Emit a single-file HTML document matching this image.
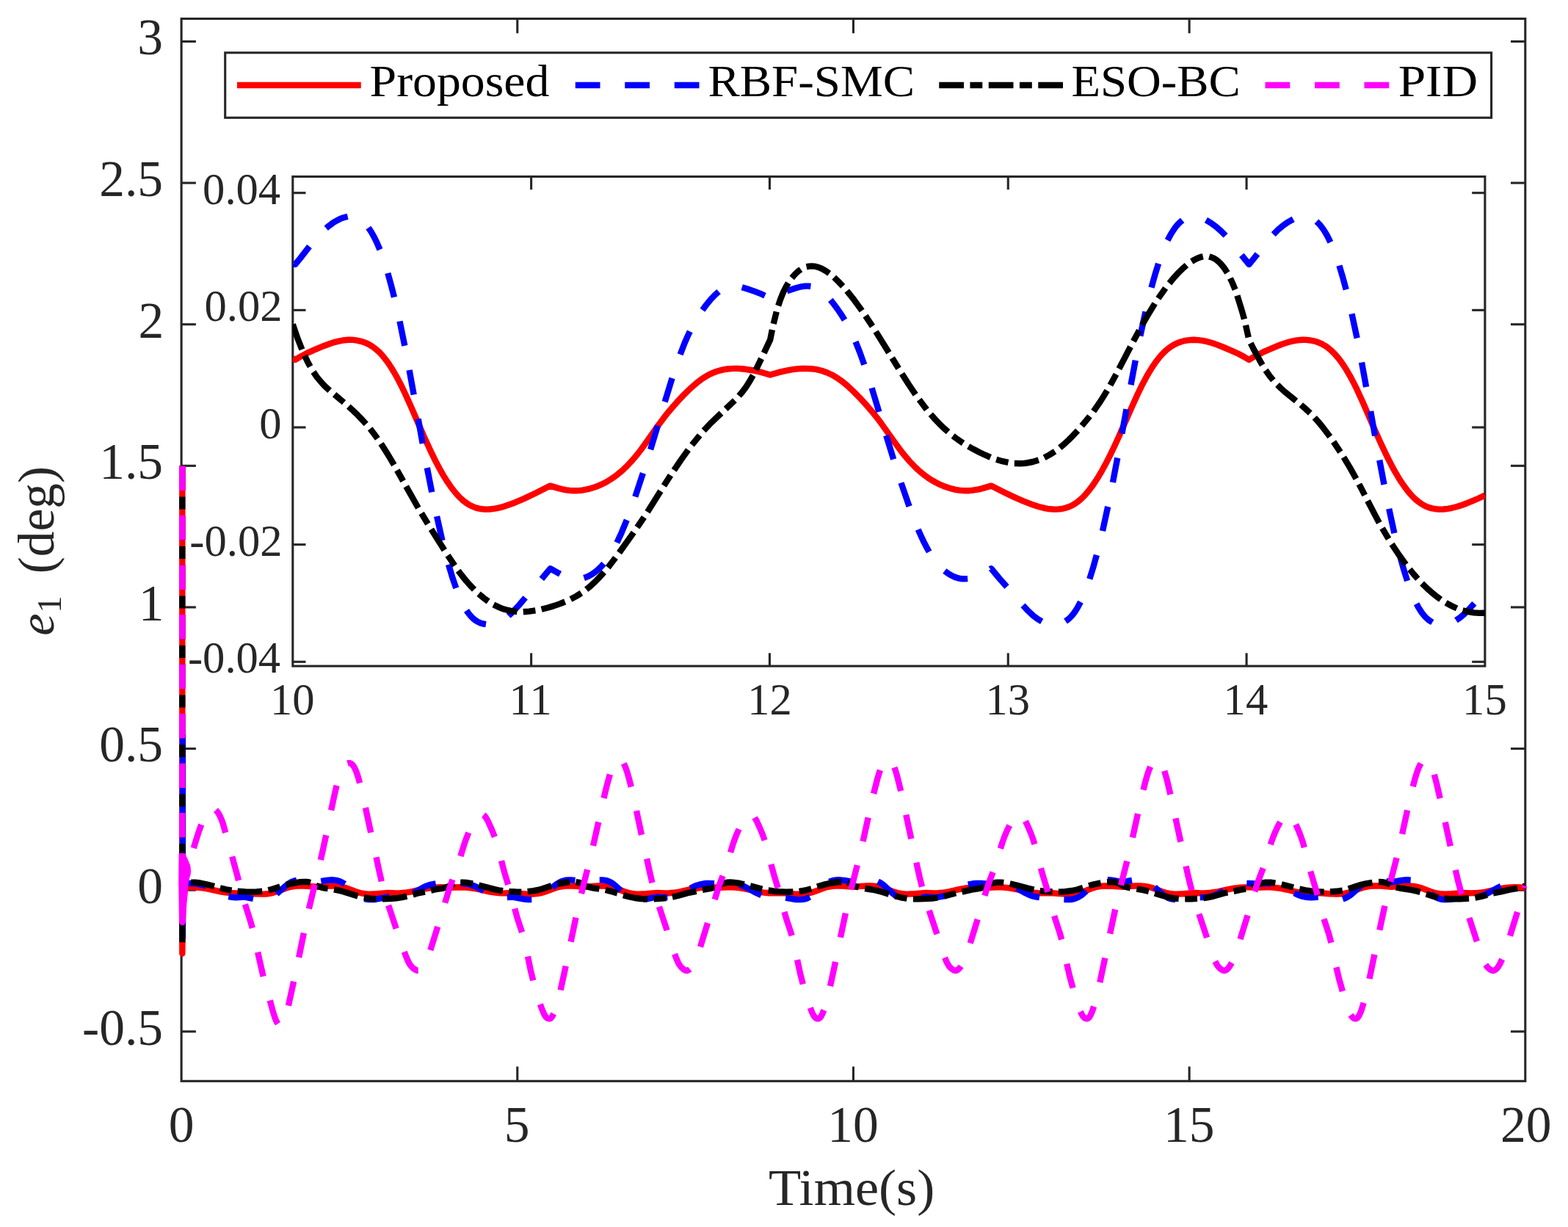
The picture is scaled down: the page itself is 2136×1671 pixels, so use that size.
<!DOCTYPE html>
<html lang="en"><head><meta charset="utf-8"><title>Tracking error e1</title>
<style>html,body{margin:0;padding:0;background:#fff}body{width:2136px;height:1671px;overflow:hidden}svg{display:block}text{font-family:"Liberation Serif","DejaVu Serif",serif;white-space:pre}</style>
</head><body>
<svg width="2136" height="1671" viewBox="0 0 2136 1671">
<rect width="2136" height="1671" fill="#fff"/>
<defs>
<clipPath id="cm"><rect x="241.10" y="25.50" width="1838.70" height="1446.80"/></clipPath>
<clipPath id="ci"><rect x="398.50" y="240.50" width="1624.70" height="666.60"/></clipPath>
</defs>
<g id="main-axes">
<rect x="247.10" y="25.50" width="1830.70" height="1446.80" fill="none" stroke="#262626" stroke-width="3.1"/>
<line x1="704.78" y1="1472.30" x2="704.78" y2="1452.50" stroke="#262626" stroke-width="3.1"/>
<line x1="704.78" y1="25.50" x2="704.78" y2="45.30" stroke="#262626" stroke-width="3.1"/>
<line x1="1162.45" y1="1472.30" x2="1162.45" y2="1452.50" stroke="#262626" stroke-width="3.1"/>
<line x1="1162.45" y1="25.50" x2="1162.45" y2="45.30" stroke="#262626" stroke-width="3.1"/>
<line x1="1620.12" y1="1472.30" x2="1620.12" y2="1452.50" stroke="#262626" stroke-width="3.1"/>
<line x1="1620.12" y1="25.50" x2="1620.12" y2="45.30" stroke="#262626" stroke-width="3.1"/>
<line x1="247.10" y1="56.51" x2="266.90" y2="56.51" stroke="#262626" stroke-width="3.1"/>
<line x1="2077.80" y1="56.51" x2="2058.00" y2="56.51" stroke="#262626" stroke-width="3.1"/>
<line x1="247.10" y1="249.12" x2="266.90" y2="249.12" stroke="#262626" stroke-width="3.1"/>
<line x1="2077.80" y1="249.12" x2="2058.00" y2="249.12" stroke="#262626" stroke-width="3.1"/>
<line x1="247.10" y1="441.74" x2="266.90" y2="441.74" stroke="#262626" stroke-width="3.1"/>
<line x1="2077.80" y1="441.74" x2="2058.00" y2="441.74" stroke="#262626" stroke-width="3.1"/>
<line x1="247.10" y1="634.36" x2="266.90" y2="634.36" stroke="#262626" stroke-width="3.1"/>
<line x1="2077.80" y1="634.36" x2="2058.00" y2="634.36" stroke="#262626" stroke-width="3.1"/>
<line x1="247.10" y1="826.97" x2="266.90" y2="826.97" stroke="#262626" stroke-width="3.1"/>
<line x1="2077.80" y1="826.97" x2="2058.00" y2="826.97" stroke="#262626" stroke-width="3.1"/>
<line x1="247.10" y1="1019.59" x2="266.90" y2="1019.59" stroke="#262626" stroke-width="3.1"/>
<line x1="2077.80" y1="1019.59" x2="2058.00" y2="1019.59" stroke="#262626" stroke-width="3.1"/>
<line x1="247.10" y1="1212.20" x2="266.90" y2="1212.20" stroke="#262626" stroke-width="3.1"/>
<line x1="2077.80" y1="1212.20" x2="2058.00" y2="1212.20" stroke="#262626" stroke-width="3.1"/>
<line x1="247.10" y1="1404.82" x2="266.90" y2="1404.82" stroke="#262626" stroke-width="3.1"/>
<line x1="2077.80" y1="1404.82" x2="2058.00" y2="1404.82" stroke="#262626" stroke-width="3.1"/>
<text transform="translate(187.36,74.41) scale(1.0000,1)" font-size="69.50" fill="#262626">3</text>
<text transform="translate(135.24,267.02) scale(1.0000,1)" font-size="69.50" fill="#262626">2.5</text>
<text transform="translate(188.48,459.64) scale(1.0000,1)" font-size="69.50" fill="#262626">2</text>
<text transform="translate(135.24,652.25) scale(1.0000,1)" font-size="69.50" fill="#262626">1.5</text>
<text transform="translate(188.82,844.87) scale(1.0000,1)" font-size="69.50" fill="#262626">1</text>
<text transform="translate(135.24,1037.49) scale(1.0000,1)" font-size="69.50" fill="#262626">0.5</text>
<text transform="translate(187.30,1230.10) scale(1.0000,1)" font-size="69.50" fill="#262626">0</text>
<text transform="translate(112.10,1422.72) scale(1.0000,1)" font-size="69.50" fill="#262626">-0.5</text>
<text transform="translate(229.72,1554.70) scale(1.0000,1)" font-size="69.50" fill="#262626">0</text>
<text transform="translate(686.74,1554.70) scale(1.0000,1)" font-size="69.50" fill="#262626">5</text>
<text transform="translate(1127.17,1554.70) scale(1.0000,1)" font-size="69.50" fill="#262626">10</text>
<text transform="translate(1584.88,1554.70) scale(1.0000,1)" font-size="69.50" fill="#262626">15</text>
<text transform="translate(2044.05,1554.70) scale(1.0000,1)" font-size="69.50" fill="#262626">20</text>
</g>
<g id="labels">
<text transform="translate(1046.89,1640.60) scale(1.0232,1)" font-size="70.70" fill="#262626">Time(s)</text>
<text transform="translate(73.3,863.6) rotate(-90)" font-size="68" fill="#262626"><tspan x="-2.09" font-style="italic">e</tspan><tspan x="28.81" dy="9.6" font-size="46.5">1</tspan><tspan x="64.90" dy="-9.6" font-size="69.4"> (deg)</tspan></text>
</g>
<g id="main-curves" clip-path="url(#cm)" fill="none" stroke-linejoin="round">
<path d="M248.3,634.4L248.3,1298.5L249.3,1231.5L249.8,1208.6L249.8,1208.6L262.8,1208.3L268.4,1208.5L273.4,1209.0L278.4,1209.7L284.9,1210.9L301.9,1214.6L306.9,1215.4L311.9,1215.9L321.9,1216.4L332.1,1216.0L347.4,1217.2L356.9,1217.6L360.9,1217.5L364.9,1217.2L368.4,1216.6L371.9,1215.8L378.4,1213.8L390.4,1209.3L396.4,1207.7L402.4,1206.8L409.4,1206.4L418.4,1206.7L431.1,1207.8L440.9,1206.9L448.9,1206.5L455.4,1206.5L460.9,1206.9L465.4,1207.6L469.9,1208.8L473.9,1210.2L483.9,1214.0L490.4,1216.0L493.9,1216.7L496.9,1217.2L500.4,1217.5L504.4,1217.6L513.9,1217.2L529.0,1216.0L539.9,1216.4L545.4,1216.2L550.9,1215.8L555.9,1215.1L560.4,1214.4L574.4,1211.2L583.9,1209.5L591.4,1208.6L599.9,1208.3L613.5,1208.8L625.9,1208.3L635.4,1208.6L640.9,1209.2L646.9,1210.1L653.9,1211.5L666.4,1214.3L671.5,1215.2L676.5,1215.8L682.0,1216.2L687.5,1216.4L698.3,1216.0L716.0,1217.4L721.5,1217.6L726.5,1217.5L733.0,1216.9L739.0,1215.6L745.0,1213.7L756.0,1209.5L762.0,1207.8L768.0,1206.8L775.5,1206.4L784.5,1206.7L797.3,1207.8L807.0,1206.9L815.0,1206.5L821.5,1206.5L827.0,1206.9L831.5,1207.6L836.0,1208.8L840.0,1210.2L850.0,1214.0L856.5,1216.0L860.0,1216.7L863.0,1217.2L866.5,1217.5L870.5,1217.6L880.0,1217.2L895.1,1216.0L906.0,1216.4L911.5,1216.2L917.0,1215.8L922.0,1215.2L926.5,1214.4L940.5,1211.2L950.0,1209.5L957.5,1208.6L966.0,1208.3L979.6,1208.8L992.0,1208.3L997.0,1208.4L1002.0,1208.6L1007.0,1209.2L1013.0,1210.1L1020.0,1211.4L1032.5,1214.3L1037.5,1215.2L1042.5,1215.8L1048.0,1216.2L1053.5,1216.4L1064.4,1216.0L1082.1,1217.4L1087.6,1217.6L1092.6,1217.5L1099.1,1216.9L1105.1,1215.6L1111.1,1213.7L1122.6,1209.3L1128.1,1207.8L1134.1,1206.8L1141.6,1206.4L1150.6,1206.7L1163.4,1207.8L1173.1,1206.9L1181.1,1206.5L1187.6,1206.5L1193.1,1206.9L1197.6,1207.6L1202.1,1208.8L1206.1,1210.2L1216.1,1214.0L1222.6,1216.0L1226.1,1216.7L1229.1,1217.2L1232.6,1217.5L1236.6,1217.6L1246.1,1217.3L1261.3,1216.0L1272.1,1216.4L1277.6,1216.2L1283.1,1215.8L1288.1,1215.2L1292.6,1214.4L1306.6,1211.2L1316.1,1209.5L1323.6,1208.6L1332.1,1208.3L1345.7,1208.8L1358.1,1208.3L1363.1,1208.4L1368.1,1208.6L1373.1,1209.2L1379.1,1210.1L1386.1,1211.4L1399.1,1214.4L1403.6,1215.2L1408.6,1215.8L1414.1,1216.2L1419.6,1216.4L1430.6,1216.0L1448.1,1217.4L1453.6,1217.6L1458.6,1217.5L1465.1,1216.9L1471.1,1215.6L1477.2,1213.7L1488.7,1209.4L1494.2,1207.8L1500.2,1206.8L1507.2,1206.5L1516.2,1206.7L1529.6,1207.8L1539.2,1206.9L1547.2,1206.5L1553.7,1206.5L1559.2,1206.9L1563.7,1207.6L1568.2,1208.8L1572.2,1210.1L1582.2,1214.0L1588.7,1216.0L1592.2,1216.7L1595.2,1217.2L1598.7,1217.5L1602.7,1217.6L1612.2,1217.3L1627.4,1216.0L1633.7,1216.3L1638.7,1216.4L1644.2,1216.1L1649.7,1215.7L1658.7,1214.4L1672.2,1211.3L1681.2,1209.6L1688.2,1208.8L1695.7,1208.4L1703.2,1208.4L1711.9,1208.8L1724.2,1208.3L1729.2,1208.4L1734.2,1208.6L1739.7,1209.2L1745.7,1210.2L1752.7,1211.5L1764.7,1214.3L1769.2,1215.1L1774.2,1215.7L1779.7,1216.1L1785.2,1216.3L1790.2,1216.3L1796.7,1216.0L1811.7,1217.2L1821.2,1217.6L1828.2,1217.3L1831.2,1216.9L1834.7,1216.2L1841.7,1214.2L1853.2,1209.9L1858.2,1208.3L1864.2,1207.1L1871.2,1206.5L1875.7,1206.5L1881.3,1206.6L1895.7,1207.8L1905.3,1206.9L1913.3,1206.5L1919.8,1206.5L1925.3,1206.9L1929.8,1207.6L1934.3,1208.8L1938.3,1210.1L1948.3,1214.0L1954.8,1216.0L1958.3,1216.7L1961.3,1217.2L1968.3,1217.6L1977.8,1217.3L1993.6,1216.0L2003.8,1216.4L2013.3,1215.9L2018.8,1215.4L2023.8,1214.6L2040.3,1210.9L2046.8,1209.7L2052.3,1209.0L2057.8,1208.5L2063.3,1208.3L2070.3,1208.4L2077.8,1208.7" stroke="#ff0000" stroke-width="8.4"/>
<path d="M248.9,1000.3L248.9,1277.7" stroke="#0000ff" stroke-width="8.4"/>
<path d="M252.6,1203.3L261.6,1202.9L267.1,1203.3L274.6,1204.8L278.1,1205.8L280.9,1206.9M311.3,1221.1L316.1,1221.9L321.1,1222.2L325.6,1222.0L332.1,1221.5L344.9,1224.0M376.8,1217.5L388.1,1207.3L392.6,1203.7L395.6,1201.8L398.1,1200.6L401.1,1199.5L404.1,1198.8M437.3,1200.1L442.6,1199.2L447.6,1198.6L452.1,1198.3L456.1,1198.6L459.6,1199.2L463.1,1200.3L466.6,1202.0L469.7,1204.1M496.5,1224.1L499.1,1224.7L502.1,1225.1L505.6,1225.1L509.6,1225.0L515.1,1224.2L529.0,1221.5L530.0,1221.6M562.8,1216.2L576.1,1208.8L580.1,1206.9L586.1,1204.8L593.7,1203.3M627.3,1202.9L631.1,1203.0L635.1,1203.6L639.6,1204.5L643.6,1205.6L646.6,1206.7L649.6,1208.1L658.9,1213.3M690.8,1222.1L698.3,1221.5L714.6,1224.6L719.6,1225.1L724.3,1225.1M752.7,1208.7L756.1,1205.7L759.6,1203.1L763.2,1201.1L766.7,1199.7L770.2,1198.8L774.2,1198.4L778.2,1198.4L783.5,1198.9M816.7,1198.4L820.7,1198.4L824.7,1198.9L828.2,1199.9L831.2,1201.2L834.2,1202.9L837.7,1205.5L845.8,1212.9M876.0,1224.9L881.7,1224.2L895.1,1221.5L903.2,1222.1L909.4,1222.0M940.5,1209.8L944.7,1207.6L948.2,1206.1L952.2,1204.9L956.7,1203.8L960.2,1203.2L963.7,1202.9L973.1,1203.2M1006.8,1204.8L1011.2,1206.1L1014.7,1207.6L1029.7,1215.8L1037.0,1219.2M1070.2,1222.6L1081.7,1224.7L1085.7,1225.1L1090.2,1225.1L1093.7,1224.9L1097.2,1224.2L1100.2,1223.1L1103.2,1221.6M1129.7,1200.9L1132.7,1199.7L1135.7,1198.9L1139.2,1198.5L1142.7,1198.3L1146.7,1198.6L1151.7,1199.1L1162.8,1201.4M1196.0,1200.6L1199.7,1202.5L1203.2,1205.0L1206.7,1208.0L1216.2,1216.8L1219.2,1219.2L1222.4,1221.3M1255.1,1222.7L1261.3,1221.5L1270.2,1222.1L1277.2,1221.9L1283.2,1220.9L1288.4,1219.2M1318.8,1204.7L1324.7,1203.5L1329.7,1203.0L1335.7,1203.0L1345.7,1203.7L1352.4,1203.2M1384.9,1209.7L1395.7,1215.7L1402.7,1219.0L1405.7,1220.1L1409.2,1221.0L1416.0,1222.0M1449.4,1224.9L1453.7,1225.1L1458.2,1225.0L1461.7,1224.5L1465.2,1223.5L1468.7,1222.0L1472.2,1219.8L1475.7,1217.1L1479.8,1213.6M1508.7,1198.3L1512.7,1198.5L1517.7,1199.1L1529.6,1201.5L1537.7,1199.7L1542.0,1199.0M1573.0,1208.1L1582.2,1216.7L1585.2,1219.1L1588.2,1221.1L1591.7,1223.0L1594.7,1224.1L1597.7,1224.7L1601.2,1225.1M1634.7,1222.1L1639.3,1222.1L1643.3,1221.9L1647.3,1221.3L1650.8,1220.5L1654.3,1219.3L1657.8,1217.9L1666.7,1213.2M1698.3,1202.9L1705.8,1203.3L1711.9,1203.7L1724.8,1202.9L1728.8,1203.0L1732.0,1203.3M1763.0,1216.3L1767.3,1218.3L1770.8,1219.7L1774.3,1220.8L1777.8,1221.5L1781.8,1222.0L1786.3,1222.2L1790.3,1222.0L1795.7,1221.6M1829.1,1224.3L1831.8,1223.4L1834.3,1222.3L1836.8,1220.9L1839.3,1219.2L1843.3,1215.9L1852.3,1207.6L1856.1,1204.5M1888.3,1199.9L1895.7,1201.5L1904.8,1199.6L1910.8,1198.7L1916.8,1198.3L1921.7,1198.7M1949.2,1217.3L1952.8,1220.1L1956.3,1222.2L1959.8,1223.7L1962.8,1224.5L1966.8,1225.1L1971.3,1225.1L1975.8,1224.8L1980.8,1224.0M2014.2,1221.1L2019.3,1219.7L2024.3,1217.7L2030.3,1214.6L2040.8,1208.7L2044.6,1206.9" stroke="#0000ff" stroke-width="8.4"/>
<path d="M248.3,634.4L248.3,668.1M248.3,676.5L248.3,693.4M248.3,701.9L248.3,735.6M248.3,744.0L248.3,760.9M248.3,769.4L248.3,803.1M248.3,811.5L248.3,828.4M248.3,836.9L248.3,870.6M248.3,879.0L248.3,895.9M248.3,904.4L248.3,938.1M248.3,946.5L248.3,963.4M248.3,971.9L248.3,1005.6M248.3,1014.0L248.3,1030.9M248.3,1039.4L248.3,1073.1M248.3,1081.5L248.3,1098.4M248.3,1106.9L248.3,1140.6M248.3,1149.0L248.3,1165.9M248.3,1174.4L248.3,1208.1M248.3,1216.5L248.3,1233.4M248.3,1241.9L248.3,1275.6M248.3,1283.3L248.4,1267.1M248.5,1259.0L248.8,1226.7M248.8,1218.6L248.9,1212.2L251.7,1203.5L252.3,1203.2M260.2,1201.6L265.7,1201.6L272.7,1202.5L281.2,1204.3L292.0,1207.0M299.8,1209.2L308.2,1211.3L315.5,1212.7M323.6,1213.7L334.2,1214.4L342.2,1214.6L349.7,1214.4L357.2,1213.7M365.5,1212.3L372.2,1210.5L381.6,1207.4M389.7,1204.9L401.2,1202.4L409.2,1201.2L413.2,1201.0L417.2,1201.0L420.2,1201.3L423.0,1202.0M430.5,1205.8L433.7,1207.2L437.2,1208.4L441.2,1209.3L446.7,1210.1M455.0,1211.4L461.2,1212.6L466.7,1214.0L487.5,1220.4M495.7,1222.4L503.7,1223.7L512.4,1224.2M520.9,1224.3L533.7,1223.7L539.2,1223.3L547.2,1222.1L554.4,1220.6M562.5,1218.4L570.7,1216.0L578.9,1214.6M587.1,1212.6L593.7,1211.2L602.7,1209.8L606.2,1209.0L613.5,1206.3L616.2,1204.3L619.1,1203.0M627.3,1201.6L630.7,1201.6L634.7,1201.9L644.0,1203.5M652.2,1205.5L672.7,1210.9L679.2,1212.3L685.0,1213.2M693.4,1214.1L702.7,1214.5L710.3,1214.6M718.7,1214.2L726.7,1213.2L733.2,1212.0L739.2,1210.3L751.3,1206.2M759.4,1204.0L769.2,1202.1L776.0,1201.2M784.4,1201.1L787.7,1201.6L790.7,1202.6L793.7,1204.0L797.2,1206.2L802.7,1208.2L807.7,1209.3L816.4,1210.6M824.7,1212.0L832.2,1213.8L841.0,1216.5M849.0,1219.1L857.7,1221.5L865.2,1223.0L873.2,1224.0L882.2,1224.3M890.7,1224.2L901.7,1223.6L907.5,1223.0M915.9,1221.6L923.2,1220.0L936.7,1216.1L948.6,1213.8M956.9,1211.8L968.7,1209.8L973.4,1208.6M981.0,1205.2L983.7,1203.6L986.2,1202.7L990.2,1201.8L994.2,1201.5L998.2,1201.7L1002.2,1202.1L1007.7,1203.0L1013.8,1204.4M1022.0,1206.4L1038.3,1210.8M1046.6,1212.5L1053.7,1213.5L1061.2,1214.2L1070.7,1214.6L1080.3,1214.5M1088.7,1213.8L1097.2,1212.5L1105.2,1210.3M1113.2,1207.6L1121.7,1204.9L1129.7,1203.1L1138.7,1201.5L1146.1,1201.0M1154.5,1201.8L1158.7,1203.4L1163.2,1206.1L1166.7,1207.5L1169.9,1208.5M1178.2,1210.0L1187.7,1211.5L1194.7,1212.9L1201.7,1214.8L1210.9,1217.7M1219.0,1220.2L1227.2,1222.3L1235.5,1223.6M1243.9,1224.2L1251.2,1224.3L1258.2,1224.1L1269.7,1223.5L1277.5,1222.4M1285.8,1220.8L1302.1,1216.3M1310.4,1214.7L1323.7,1211.6L1336.2,1209.5L1339.3,1208.7L1343.3,1207.3M1350.6,1203.3L1354.3,1202.2L1358.3,1201.6L1362.8,1201.6L1367.3,1202.0M1375.7,1203.4L1383.8,1205.3L1400.8,1209.9L1408.4,1211.7M1416.7,1213.1L1424.3,1213.9L1433.6,1214.5M1442.0,1214.6L1450.8,1214.2L1460.3,1213.0L1467.3,1211.5L1475.2,1209.0M1483.2,1206.3L1490.3,1204.3L1499.6,1202.4M1508.0,1201.2L1515.3,1201.0L1517.8,1201.2L1520.3,1201.7L1524.3,1203.1L1529.3,1206.0L1532.3,1207.3L1535.8,1208.4L1540.0,1209.4M1548.4,1210.6L1557.3,1212.1L1564.9,1213.9M1573.0,1216.4L1583.8,1219.8L1591.3,1221.8L1598.3,1223.2L1605.7,1224.0M1614.2,1224.3L1622.3,1224.2L1631.0,1223.8M1639.4,1223.1L1646.3,1222.0L1652.3,1220.8L1667.3,1216.5L1672.3,1215.4M1680.5,1213.9L1689.3,1211.8L1697.0,1210.5M1705.3,1208.8L1711.9,1206.3L1713.8,1204.8L1716.3,1203.5L1718.3,1202.7L1720.8,1202.1L1724.3,1201.7L1728.3,1201.6L1732.3,1201.8L1737.4,1202.6M1745.7,1204.3L1762.0,1208.5M1770.2,1210.7L1778.3,1212.4L1785.8,1213.5L1793.3,1214.2L1803.6,1214.6M1812.0,1214.5L1820.8,1213.8L1828.8,1212.6M1836.9,1210.5L1848.8,1206.5L1854.3,1204.9L1860.8,1203.4L1869.5,1201.8M1877.9,1201.0L1882.8,1201.1L1886.8,1201.8L1890.3,1203.0L1893.9,1205.0M1901.7,1208.3L1906.8,1209.5L1923.3,1212.1L1928.8,1213.3L1934.7,1215.0M1942.8,1217.6L1951.8,1220.4L1959.0,1222.2M1967.4,1223.6L1974.3,1224.1L1982.3,1224.3L1989.3,1224.2L2001.1,1223.5M2009.4,1222.5L2017.8,1220.9L2025.9,1218.8M2034.0,1216.4L2044.8,1214.3L2056.3,1211.6L2067.1,1209.8M2075.1,1207.4L2077.8,1206.4" stroke="#000000" stroke-width="8.4"/>
<path d="M243.6,1162L252.3,1162L252.6,1164L255.6,1170L259.3,1178.7L259.9,1184L259.5,1192L256.3,1197L256.1,1214L254.4,1230.5L252.7,1256L244,1256L243.2,1200Z" fill="#ff00ff" stroke="none"/>
<path d="M248.3,634.4L248.3,668.1M248.3,701.9L248.3,735.6M248.3,769.4L248.3,803.1M248.3,836.9L248.3,870.6M248.3,904.4L248.3,938.1M248.3,971.9L248.3,1005.6M248.3,1039.4L248.3,1073.1M248.3,1106.9L248.3,1140.6M248.3,1174.4L248.3,1205.1M248.3,1235.8L248.3,1256.1L248.6,1245.7M250.8,1215.0L253.0,1200.0L256.1,1184.7M263.7,1155.0L270.0,1134.9L274.2,1123.0M293.9,1103.3L295.5,1104.8L297.0,1106.8L299.0,1110.1L300.5,1113.3L302.5,1118.2L304.0,1122.5L307.2,1134.0M316.2,1166.5L325.1,1199.1M333.9,1231.6L341.0,1254.1L343.8,1263.8M351.1,1296.8L358.6,1329.7M367.7,1362.3L371.6,1376.7L374.1,1384.9L376.1,1390.0L377.1,1392.0L378.6,1394.2M392.9,1369.6L400.1,1336.7M407.1,1303.8L413.9,1270.6M420.9,1237.6L428.7,1204.7M436.8,1171.2L440.1,1156.3L444.2,1137.4M451.1,1103.5L455.7,1082.1L458.6,1069.8M473.4,1039.6L474.7,1039.2L475.7,1039.1L477.2,1039.4L478.2,1039.9L480.2,1041.5L482.2,1044.2L484.2,1048.1L486.2,1053.2L488.2,1059.4L490.1,1066.3M497.9,1100.0L505.2,1133.9M512.5,1167.4L516.7,1186.9L519.8,1200.4M529.1,1232.8L539.7,1264.6M550.7,1296.2L555.2,1307.5L557.2,1311.5L559.2,1314.7L561.7,1317.6L564.7,1320.0L567.2,1321.3L568.7,1321.8L569.7,1321.8M586.3,1294.0L596.3,1261.9M606.2,1229.6L611.8,1211.1L616.5,1197.8M627.4,1165.9L633.3,1147.1L635.8,1140.2L638.3,1134.0M658.6,1109.8L659.8,1110.7L661.3,1112.5L664.3,1117.5L669.8,1129.5L673.8,1139.7M683.0,1172.2L687.3,1188.6L692.2,1204.8M701.2,1237.3L704.8,1250.6L711.1,1269.6M719.0,1302.5L722.8,1321.2L726.3,1335.3M735.9,1367.6L738.4,1374.6L740.9,1380.5L742.9,1383.9L743.9,1385.2L745.4,1386.5L746.4,1387.0L747.9,1387.4L748.9,1387.3L749.9,1386.9L750.9,1386.1L751.9,1384.9L754.2,1380.6M763.6,1348.4L770.7,1315.6M777.6,1282.6L784.5,1249.6M791.9,1216.9L800.1,1184.2M808.0,1151.9L815.3,1119.5M822.5,1086.9L826.9,1068.8L830.9,1054.6M849.7,1039.8L851.9,1044.5L854.4,1051.7L856.9,1060.4L859.8,1071.6M867.0,1104.2L874.0,1137.0M881.1,1169.5L885.5,1189.6L888.5,1202.3M897.9,1234.8L908.6,1267.0M919.1,1299.3L921.5,1305.7L924.0,1311.3L926.0,1314.7L928.5,1317.8L931.5,1320.3L933.0,1321.2L934.5,1321.7L936.0,1321.8L937.0,1321.5L938.5,1320.8L939.7,1319.8M954.0,1289.5L964.0,1257.1M973.7,1224.9L979.0,1207.6L984.6,1192.8M995.1,1160.9L998.0,1151.2L1000.5,1143.9L1003.5,1136.1L1006.6,1129.1M1028.1,1113.5L1031.1,1118.7L1035.1,1127.5L1038.6,1135.9L1041.6,1144.4M1050.4,1177.0L1054.1,1190.7L1059.7,1209.3M1068.5,1241.8L1071.6,1252.6L1076.6,1267.5L1078.7,1274.2M1086.1,1307.2L1090.1,1326.0L1093.8,1340.3M1103.8,1372.6L1106.1,1378.6L1108.6,1383.4L1109.6,1384.7L1111.1,1386.2L1112.1,1386.9L1113.6,1387.4L1115.1,1387.3L1116.1,1386.8L1117.1,1386.0L1118.1,1384.7L1120.1,1381.1L1122.3,1375.7M1131.0,1343.0L1138.1,1309.9M1144.9,1276.7L1151.9,1243.6M1159.5,1210.7L1167.8,1178.2M1175.6,1145.8L1182.7,1113.3M1190.1,1080.9L1195.2,1060.9L1197.2,1054.2L1199.0,1048.8M1218.4,1045.2L1220.2,1050.4L1222.2,1057.2L1227.2,1077.3M1234.3,1109.7L1241.3,1142.3M1248.3,1174.7L1252.7,1194.5L1256.0,1207.6M1265.7,1239.9L1276.4,1272.1M1287.1,1304.2L1289.7,1310.5L1292.2,1314.9L1293.7,1316.8L1295.2,1318.4L1297.3,1320.0L1298.8,1321.0L1300.3,1321.6L1301.3,1321.8L1302.3,1321.8L1303.8,1321.3L1304.8,1320.7L1306.3,1319.4L1307.8,1317.7L1309.1,1315.8M1321.7,1284.5L1331.7,1252.1M1341.4,1219.8L1345.8,1205.8L1352.6,1187.8M1362.8,1155.6L1365.8,1146.4L1368.8,1138.3L1371.8,1131.2L1375.3,1124.1M1397.0,1118.3L1400.8,1126.6L1404.3,1134.9L1406.8,1141.6L1409.4,1149.8M1417.9,1182.4L1420.8,1192.8L1427.5,1214.7M1436.1,1247.3L1438.4,1254.6L1443.4,1269.5L1446.2,1279.5M1453.3,1312.6L1456.9,1328.6L1461.5,1345.5M1471.8,1377.7L1473.9,1381.9L1474.9,1383.6L1476.4,1385.4L1477.4,1386.3L1478.9,1387.1L1480.4,1387.4L1481.4,1387.2L1482.4,1386.7L1483.4,1385.8L1485.4,1382.9L1487.9,1377.3L1490.1,1370.6M1498.3,1337.8L1505.3,1304.6M1512.1,1271.6L1519.2,1238.5M1526.9,1205.5L1535.3,1172.8M1542.9,1140.6L1550.0,1108.1M1557.5,1075.7L1559.9,1066.0L1562.4,1057.1L1564.9,1049.4L1567.1,1044.1M1586.2,1049.9L1590.0,1063.2L1594.4,1082.0M1601.4,1114.4L1608.4,1146.5M1615.5,1179.6L1619.5,1197.1L1623.4,1212.4M1633.4,1244.7L1644.1,1277.0M1655.3,1309.2L1658.0,1314.3L1660.5,1317.5L1662.5,1319.4L1664.5,1320.8L1666.0,1321.5L1667.5,1321.8L1668.5,1321.7L1670.0,1321.2L1671.0,1320.6L1672.5,1319.3L1675.0,1316.2L1677.9,1311.1M1689.5,1278.9L1699.6,1246.5M1709.2,1214.1L1712.5,1204.1L1720.7,1182.3M1730.7,1150.2L1734.1,1140.6L1737.1,1133.2L1740.6,1125.8L1744.0,1119.6M1765.3,1122.8L1769.1,1131.5L1772.1,1139.2L1774.6,1146.5L1776.8,1154.1M1785.2,1186.6L1794.8,1218.9M1803.5,1251.5L1810.1,1271.5L1813.4,1283.9M1820.4,1317.2L1824.1,1333.0L1828.9,1350.0M1840.1,1382.1L1842.1,1385.0L1843.1,1386.0L1844.6,1387.0L1846.1,1387.4L1847.1,1387.3L1848.1,1387.0L1849.1,1386.2L1851.1,1383.6L1853.1,1379.5L1855.1,1374.1L1857.7,1365.8M1865.5,1333.0L1872.4,1299.9M1879.3,1266.7L1886.4,1233.7M1894.2,1200.8L1902.6,1168.2M1910.1,1135.8L1917.2,1103.4M1924.7,1071.1L1927.7,1060.1L1930.2,1052.0L1932.7,1045.3L1935.5,1039.7M1953.8,1054.8L1957.2,1067.7L1961.7,1087.2M1968.7,1119.7L1975.8,1152.3M1982.8,1184.9L1986.7,1201.7L1991.0,1217.7M2001.4,1250.0L2011.9,1282.1M2023.8,1313.8L2025.3,1315.9L2026.8,1317.7L2029.8,1320.2L2031.3,1321.1L2032.8,1321.7L2034.3,1321.8L2035.3,1321.6L2036.3,1321.2L2037.8,1320.1L2039.3,1318.7L2040.8,1316.7L2043.3,1312.6L2046.2,1306.4M2057.0,1274.4L2067.1,1242.1M2076.8,1209.7L2077.8,1206.6" stroke="#ff00ff" stroke-width="8.4"/>
</g>
<g id="legend">
<rect x="306.7" y="71.8" width="1724.90" height="88.50" fill="#fff" stroke="#262626" stroke-width="3.1"/>
<line x1="323" y1="116.0" x2="491.75" y2="116.0" stroke="#ff0000" stroke-width="8.4"/>
<line x1="783.75" y1="116.0" x2="952.5" y2="116.0" stroke="#0000ff" stroke-width="8.4" stroke-dasharray="33.75 33.75"/>
<line x1="1279.25" y1="116.0" x2="1448" y2="116.0" stroke="#000" stroke-width="8.4" stroke-dasharray="33.75 8.44 16.87 8.44"/>
<line x1="1723.5" y1="116.0" x2="1892.5" y2="116.0" stroke="#ff00ff" stroke-width="8.4" stroke-dasharray="33.75 33.75"/>
<text transform="translate(503.61,131.30) scale(1.0569,1)" font-size="62.20" fill="#000">Proposed</text>
<text transform="translate(964.38,131.30) scale(1.0447,1)" font-size="62.20" fill="#000">RBF-SMC</text>
<text transform="translate(1459.38,131.30) scale(1.0418,1)" font-size="62.20" fill="#000">ESO-BC</text>
<text transform="translate(1904.66,131.30) scale(1.0829,1)" font-size="62.20" fill="#000">PID</text>
</g>
<g id="inset-axes">
<rect x="398.80" y="240.50" width="1624.10" height="666.60" fill="#fff" stroke="none"/>
</g>
<g id="inset-frame">
<rect x="398.80" y="240.50" width="1624.10" height="666.60" fill="none" stroke="#262626" stroke-width="3.1"/>
<line x1="723.62" y1="907.10" x2="723.62" y2="889.40" stroke="#262626" stroke-width="3.1"/>
<line x1="723.62" y1="240.50" x2="723.62" y2="258.20" stroke="#262626" stroke-width="3.1"/>
<line x1="1048.44" y1="907.10" x2="1048.44" y2="889.40" stroke="#262626" stroke-width="3.1"/>
<line x1="1048.44" y1="240.50" x2="1048.44" y2="258.20" stroke="#262626" stroke-width="3.1"/>
<line x1="1373.26" y1="907.10" x2="1373.26" y2="889.40" stroke="#262626" stroke-width="3.1"/>
<line x1="1373.26" y1="240.50" x2="1373.26" y2="258.20" stroke="#262626" stroke-width="3.1"/>
<line x1="1698.08" y1="907.10" x2="1698.08" y2="889.40" stroke="#262626" stroke-width="3.1"/>
<line x1="1698.08" y1="240.50" x2="1698.08" y2="258.20" stroke="#262626" stroke-width="3.1"/>
<line x1="398.80" y1="262.70" x2="416.50" y2="262.70" stroke="#262626" stroke-width="3.1"/>
<line x1="2022.90" y1="262.70" x2="2005.20" y2="262.70" stroke="#262626" stroke-width="3.1"/>
<line x1="398.80" y1="422.35" x2="416.50" y2="422.35" stroke="#262626" stroke-width="3.1"/>
<line x1="2022.90" y1="422.35" x2="2005.20" y2="422.35" stroke="#262626" stroke-width="3.1"/>
<line x1="398.80" y1="582.00" x2="416.50" y2="582.00" stroke="#262626" stroke-width="3.1"/>
<line x1="2022.90" y1="582.00" x2="2005.20" y2="582.00" stroke="#262626" stroke-width="3.1"/>
<line x1="398.80" y1="741.65" x2="416.50" y2="741.65" stroke="#262626" stroke-width="3.1"/>
<line x1="2022.90" y1="741.65" x2="2005.20" y2="741.65" stroke="#262626" stroke-width="3.1"/>
<line x1="398.80" y1="901.30" x2="416.50" y2="901.30" stroke="#262626" stroke-width="3.1"/>
<line x1="2022.90" y1="901.30" x2="2005.20" y2="901.30" stroke="#262626" stroke-width="3.1"/>
<text transform="translate(276.10,277.70) scale(1.0000,1)" font-size="60.60" fill="#262626">0.04</text>
<text transform="translate(278.49,437.35) scale(1.0000,1)" font-size="60.60" fill="#262626">0.02</text>
<text transform="translate(353.21,597.00) scale(1.0000,1)" font-size="60.60" fill="#262626">0</text>
<text transform="translate(258.31,756.65) scale(1.0000,1)" font-size="60.60" fill="#262626">-0.02</text>
<text transform="translate(255.92,916.30) scale(1.0000,1)" font-size="60.60" fill="#262626">-0.04</text>
<text transform="translate(367.99,973.20) scale(1.0000,1)" font-size="60.60" fill="#262626">10</text>
<text transform="translate(693.48,973.20) scale(1.0000,1)" font-size="60.60" fill="#262626">11</text>
<text transform="translate(1018.15,973.20) scale(1.0000,1)" font-size="60.60" fill="#262626">12</text>
<text transform="translate(1342.48,973.20) scale(1.0000,1)" font-size="60.60" fill="#262626">13</text>
<text transform="translate(1666.59,973.20) scale(1.0000,1)" font-size="60.60" fill="#262626">14</text>
<text transform="translate(1992.12,973.20) scale(1.0000,1)" font-size="60.60" fill="#262626">15</text>
</g>
<g id="inset-curves" clip-path="url(#ci)" fill="none" stroke-linejoin="round">
<path d="M398.8,487.8L402.2,490.0L409.8,485.4L417.8,481.2L427.3,476.9L440.8,471.2L448.8,468.2L456.3,465.8L462.8,464.3L469.3,463.2L475.3,462.8L480.8,462.9L486.3,463.6L491.8,464.8L496.8,466.4L501.8,468.6L506.8,471.6L511.3,474.8L515.3,478.3L518.8,481.8L522.3,485.8L526.3,490.9L529.8,495.8L533.8,502.0L537.3,507.8L541.3,514.9L547.3,526.5L553.8,540.2L560.3,554.8L577.3,594.0L587.8,616.7L593.3,627.9L598.8,638.3L603.8,647.1L608.8,655.2L614.3,663.2L619.8,670.3L625.3,676.5L630.8,681.6L635.8,685.4L638.3,687.0L641.3,688.6L646.8,691.0L649.8,691.9L652.8,692.6L656.8,693.3L660.8,693.6L665.3,693.6L669.8,693.2L674.3,692.6L679.3,691.6L684.3,690.4L689.3,688.8L700.8,684.7L713.8,679.1L729.8,671.5L749.5,661.6L761.3,665.1L766.3,666.3L771.3,667.3L775.8,667.9L780.3,668.2L784.3,668.3L788.8,668.1L793.3,667.6L798.3,666.7L803.3,665.6L808.3,664.1L813.3,662.3L818.3,660.2L823.3,657.8L827.8,655.3L832.3,652.5L836.8,649.5L841.3,646.1L845.3,642.8L849.8,638.8L853.8,635.0L861.8,626.4L867.8,619.3L873.8,611.5L880.3,602.5L896.3,579.7L905.3,567.7L911.3,560.2L917.3,553.2L923.8,545.9L930.3,539.0L936.3,533.0L941.8,527.8L946.8,523.4L951.8,519.3L956.3,516.0L960.8,513.1L965.3,510.5L970.3,508.1L974.3,506.5L978.3,505.2L982.3,504.1L986.8,503.2L991.3,502.5L995.8,502.1L1000.3,501.9L1004.8,501.9L1009.8,502.2L1015.3,502.8L1026.3,504.5L1037.8,507.2L1049.2,510.6L1055.3,508.7L1061.8,506.9L1068.3,505.3L1074.3,504.1L1080.3,503.1L1086.3,502.4L1091.8,502.0L1096.8,501.9L1104.8,502.2L1112.3,503.2L1119.8,505.0L1126.8,507.5L1133.8,510.7L1140.3,514.6L1147.3,519.5L1154.3,525.3L1162.3,532.8L1171.3,541.9L1180.3,551.7L1188.8,561.6L1194.8,569.1L1200.8,577.1L1219.9,603.9L1226.4,612.8L1232.9,621.1L1238.9,628.1L1246.9,636.4L1250.9,640.1L1255.4,644.0L1259.4,647.1L1263.9,650.4L1268.4,653.4L1272.9,656.0L1277.4,658.4L1282.4,660.7L1286.9,662.6L1291.9,664.3L1296.9,665.7L1301.4,666.8L1306.4,667.6L1310.9,668.1L1315.4,668.3L1319.4,668.2L1323.9,667.9L1328.4,667.2L1333.4,666.3L1338.4,665.1L1350.2,661.6L1368.4,670.7L1382.4,677.4L1394.4,682.6L1404.9,686.7L1414.9,690.0L1423.4,692.1L1427.4,692.8L1431.4,693.3L1435.4,693.6L1438.9,693.6L1442.4,693.4L1445.9,693.0L1449.4,692.3L1452.4,691.5L1455.9,690.3L1458.9,689.0L1461.9,687.5L1464.9,685.6L1467.9,683.5L1470.9,681.1L1473.9,678.4L1476.9,675.4L1482.9,668.5L1488.9,660.6L1494.4,652.3L1499.9,643.2L1505.9,632.3L1511.9,620.6L1517.4,609.2L1523.4,596.2L1541.9,554.1L1548.9,538.7L1555.9,524.2L1562.4,512.0L1566.9,504.4L1570.9,498.1L1574.9,492.4L1578.9,487.2L1582.9,482.6L1586.9,478.5L1590.9,475.1L1594.9,472.1L1599.4,469.4L1604.4,467.0L1609.4,465.2L1614.9,463.8L1620.4,463.1L1625.9,462.8L1631.9,463.1L1637.9,463.8L1644.4,465.2L1650.9,467.0L1658.4,469.6L1666.9,473.0L1678.9,478.1L1687.4,482.0L1694.9,486.0L1701.5,490.0L1705.9,487.2L1710.4,484.7L1720.9,479.4L1737.9,472.1L1744.4,469.5L1750.4,467.4L1754.9,466.0L1759.4,464.9L1763.4,464.0L1767.4,463.4L1771.4,463.0L1775.4,462.8L1779.4,462.9L1782.9,463.2L1789.4,464.3L1792.9,465.3L1795.9,466.3L1798.9,467.6L1801.9,469.1L1804.9,470.8L1807.9,472.8L1813.4,477.2L1818.9,482.7L1824.4,489.3L1829.9,497.0L1834.4,504.1L1838.9,511.8L1843.4,520.2L1848.4,530.2L1856.9,548.7L1873.9,587.8L1881.4,604.6L1889.4,621.5L1896.9,636.1L1901.4,644.2L1905.4,650.9L1909.4,657.2L1913.4,662.9L1917.4,668.2L1921.4,673.0L1925.4,677.3L1928.9,680.6L1932.9,683.8L1937.4,686.9L1941.9,689.3L1946.4,691.1L1950.9,692.4L1955.9,693.2L1960.9,693.6L1966.4,693.5L1971.9,692.9L1977.9,691.8L1983.9,690.3L1990.4,688.3L1997.4,685.7L2004.9,682.7L2013.4,679.0L2022.9,674.6" stroke="#ff0000" stroke-width="8.4"/>
<path d="M400.5,357.9L402.2,360.0L409.3,351.4L421.5,335.6M444.2,310.7L447.8,307.8L451.8,304.8L455.8,302.1L459.8,299.9L463.3,298.1L466.8,296.7L470.3,295.7L473.7,295.0M501.9,310.1L505.8,316.0L509.8,323.1L513.8,331.3L517.5,340.0M528.3,372.0L532.8,388.3L537.0,404.7M544.5,437.5L551.3,470.8M557.6,504.0L563.7,537.4M569.7,570.5L575.7,603.9M581.8,637.1L588.3,670.3M595.1,703.2L602.5,736.1M611.0,768.7L616.3,786.5L621.3,800.9M635.5,831.3L638.3,835.4L641.3,839.0L644.3,842.1L647.8,844.9L650.8,846.8L654.3,848.4L657.8,849.5L662.0,850.1M692.7,838.7L697.3,834.4L702.3,829.3L707.8,823.2L715.7,813.9M737.8,788.5L749.5,774.3L763.1,781.8M795.5,787.0L798.8,785.9L802.3,784.4L805.8,782.4L809.3,780.1L812.8,777.4L815.8,774.7L819.3,771.2L822.5,767.6M840.4,739.1L846.8,725.2L853.8,708.2M865.3,676.5L875.9,644.4M886.1,612.2L896.0,579.8M905.7,547.3L915.6,514.9M926.6,482.7L932.8,466.8L936.3,458.8L939.8,451.4M956.9,422.3L962.8,414.3L968.3,407.6L973.8,401.8L979.1,397.2M1010.7,391.2L1018.3,393.5L1028.8,397.1L1035.8,399.8L1042.0,402.7M1072.0,396.2L1084.3,392.2L1091.8,390.3L1095.3,389.8L1098.3,389.6L1101.3,389.6L1104.4,390.0M1131.3,408.5L1136.3,414.7L1141.3,421.5L1145.8,428.1L1150.6,435.7M1165.5,465.4L1171.3,479.9L1177.3,496.6M1187.6,528.4L1197.4,560.9M1207.2,593.0L1217.2,625.4M1227.5,657.5L1238.6,689.6M1250.7,721.1L1254.4,729.4L1258.4,737.9L1261.9,744.7L1265.7,751.5M1286.8,777.5L1290.4,780.2L1294.4,782.8L1298.4,784.9L1302.4,786.5L1306.4,787.6L1310.4,788.3L1314.4,788.4L1318.2,788.1M1348.9,775.1L1350.2,774.3L1361.4,787.8L1371.5,799.1M1393.5,824.4L1400.9,832.3L1407.4,838.4L1413.4,842.9L1419.2,846.3M1451.5,846.0L1454.4,844.0L1456.9,841.9L1459.9,838.8L1462.4,835.8L1464.9,832.3L1467.4,828.3L1472.0,819.7M1484.3,788.4L1488.9,773.8L1493.9,755.8M1502.0,723.2L1509.2,690.0M1515.9,657.0L1522.3,623.6M1528.4,590.6L1534.5,557.2M1540.5,524.1L1546.8,490.7M1553.3,457.5L1560.5,424.5M1568.5,391.7L1573.4,374.1L1578.1,358.9M1590.5,327.3L1595.4,318.2L1600.4,310.6L1602.9,307.4L1605.4,304.6L1607.9,302.2L1610.7,299.9M1642.9,299.7L1649.9,303.8L1656.4,308.6L1662.9,314.2L1669.6,320.9M1691.3,347.5L1701.5,360.0L1706.4,354.1L1713.0,345.8M1734.7,319.2L1741.4,312.6L1748.4,306.8L1754.9,302.3L1761.7,298.5M1793.4,301.7L1795.9,304.0L1798.4,306.7L1800.9,309.8L1803.4,313.4L1807.9,320.8L1812.4,329.9M1824.4,361.6L1828.9,376.7L1833.7,394.3M1841.5,427.3L1848.6,460.5M1855.0,493.6L1861.1,527.0M1867.1,560.1L1873.1,593.5M1879.2,626.6L1885.5,659.9M1892.2,692.9L1899.4,726.1M1907.5,758.7L1912.4,776.1L1917.1,791.1M1929.6,822.3L1932.4,827.4L1934.9,831.5L1937.4,835.1L1939.9,838.2L1942.4,841.0L1945.4,843.7L1948.4,845.8L1951.3,847.5M1983.5,844.7L1989.4,840.7L1994.9,836.0L2000.9,830.0L2008.4,821.7" stroke="#0000ff" stroke-width="8.4"/>
<path d="M398.8,441.6L405.3,460.5L411.4,476.0M415.0,484.4L418.8,492.2L422.6,499.3M426.9,506.5L431.8,513.6L436.8,519.7L442.3,525.6L449.1,531.9M455.6,537.3L468.5,548.1M474.8,553.6L481.3,559.5L487.3,565.3L493.3,571.5L498.7,577.5M504.2,583.9L509.3,590.5L514.3,597.4M519.1,604.3L527.3,617.2L536.8,633.1M540.9,640.4L549.2,655.1M553.2,662.4L569.8,691.8M574.1,699.0L582.9,713.5M587.4,720.7L605.4,749.2M610.0,756.3L619.4,770.3M624.2,777.2L629.8,784.5L635.3,791.3L640.8,797.5L646.0,802.9M652.1,808.7L658.8,814.3L665.2,819.0M672.3,823.4L679.8,827.1L683.8,828.7L687.8,830.0L695.8,831.9L704.4,833.0M712.8,833.2L720.8,832.6L729.4,831.4M737.6,829.8L745.8,827.7L753.8,825.4L761.8,822.6L769.7,819.5M777.4,816.0L784.8,812.1L791.9,807.6M798.7,802.7L804.8,797.7L810.8,792.1L816.8,786.0L822.8,779.3M828.2,772.9L838.5,759.5M843.5,752.7L863.2,725.1M868.0,718.2L877.4,704.3M882.0,697.2L899.9,668.7M904.4,661.5L913.5,647.3M918.2,640.3L927.8,626.1L937.5,612.6M942.6,605.9L953.2,592.8M958.7,586.4L969.3,575.2L982.5,562.6M988.7,556.9L1000.9,545.3M1006.7,539.2L1011.8,533.0L1016.8,526.2L1021.3,519.1L1025.8,511.2M1029.7,503.7L1037.1,488.4M1040.7,480.7L1049.2,462.6L1051.9,449.2M1053.7,440.9L1057.8,424.5M1060.2,416.3L1063.2,407.4L1066.7,398.7L1070.2,391.5L1073.8,385.3M1078.7,378.4L1081.7,374.9L1084.7,371.8L1087.7,369.2L1090.9,366.9M1098.6,363.4L1102.2,362.6L1105.7,362.4L1109.2,362.6L1113.2,363.5L1117.2,364.9L1121.2,366.8L1125.2,369.2L1129.7,372.4M1136.2,377.7L1142.2,383.5L1148.2,389.8M1153.7,396.2L1163.7,408.7L1174.2,423.1M1179.0,430.1L1188.5,444.4M1193.1,451.6L1210.9,480.3M1215.3,487.5L1224.1,501.8M1228.6,509.0L1238.2,524.0L1247.2,537.3M1252.2,544.2L1262.4,557.7M1267.8,564.2L1273.7,570.9L1279.7,577.2L1285.7,583.0L1291.6,588.2M1298.1,593.6L1304.7,598.5L1312.0,603.4M1319.2,607.9L1326.7,612.1L1334.7,616.2L1342.2,619.7L1349.3,622.8M1357.2,625.7L1365.7,628.2L1373.5,629.9M1381.8,631.0L1390.2,631.2L1394.7,631.0L1398.7,630.5L1406.7,629.0L1414.9,626.4M1422.6,623.2L1429.7,619.4L1437.1,614.7M1443.8,609.7L1449.7,604.8L1455.7,599.2L1461.7,593.2L1468.1,586.3M1473.7,579.9L1484.5,566.8M1489.7,560.1L1499.2,546.4L1508.2,531.9M1512.4,524.6L1520.5,509.7M1524.4,502.2L1540.0,472.3M1543.9,464.8L1551.9,449.9M1555.9,442.5L1564.7,427.2L1573.2,413.4M1577.8,406.4L1587.7,392.4M1592.9,385.7L1598.7,378.7L1604.7,372.1L1610.7,366.2L1616.4,361.2M1623.3,356.1L1627.2,353.7L1631.2,351.7L1635.2,350.2L1638.8,349.4M1647.2,349.5L1650.7,350.5L1653.7,351.8L1657.2,354.0L1660.2,356.5L1663.2,359.5L1666.2,363.0L1669.2,367.2L1671.9,371.4M1675.9,378.9L1679.2,386.1L1682.6,394.4M1685.4,402.4L1691.7,422.9L1695.0,434.7M1697.0,442.9L1700.7,459.5M1703.7,467.4L1708.1,476.2L1712.6,484.1L1716.1,490.9L1719.7,497.2M1724.1,504.3L1729.1,511.3L1734.4,517.8M1740.1,524.1L1744.6,528.5L1750.1,533.5L1765.6,546.1M1772.2,551.4L1779.1,557.3L1784.8,562.6M1790.8,568.7L1796.1,574.7L1801.1,580.7L1811.8,594.8M1816.6,601.7L1825.9,615.6M1830.4,622.7L1839.1,637.1L1847.4,652.0M1851.4,659.4L1859.2,674.4M1863.1,682.0L1872.1,699.4L1878.8,711.9M1883.0,719.3L1891.6,733.9M1896.0,741.1L1905.6,755.5L1915.2,768.8M1920.4,775.4L1926.1,782.3L1931.3,788.3M1937.1,794.5L1943.6,800.8L1950.1,806.7L1956.1,811.6L1962.6,816.3M1969.6,820.9L1977.1,825.0L1984.6,828.5M1992.5,831.3L2000.1,833.2L2007.6,834.4L2015.1,834.9L2022.9,834.7" stroke="#000000" stroke-width="8.4"/>
</g>

</svg></body></html>
